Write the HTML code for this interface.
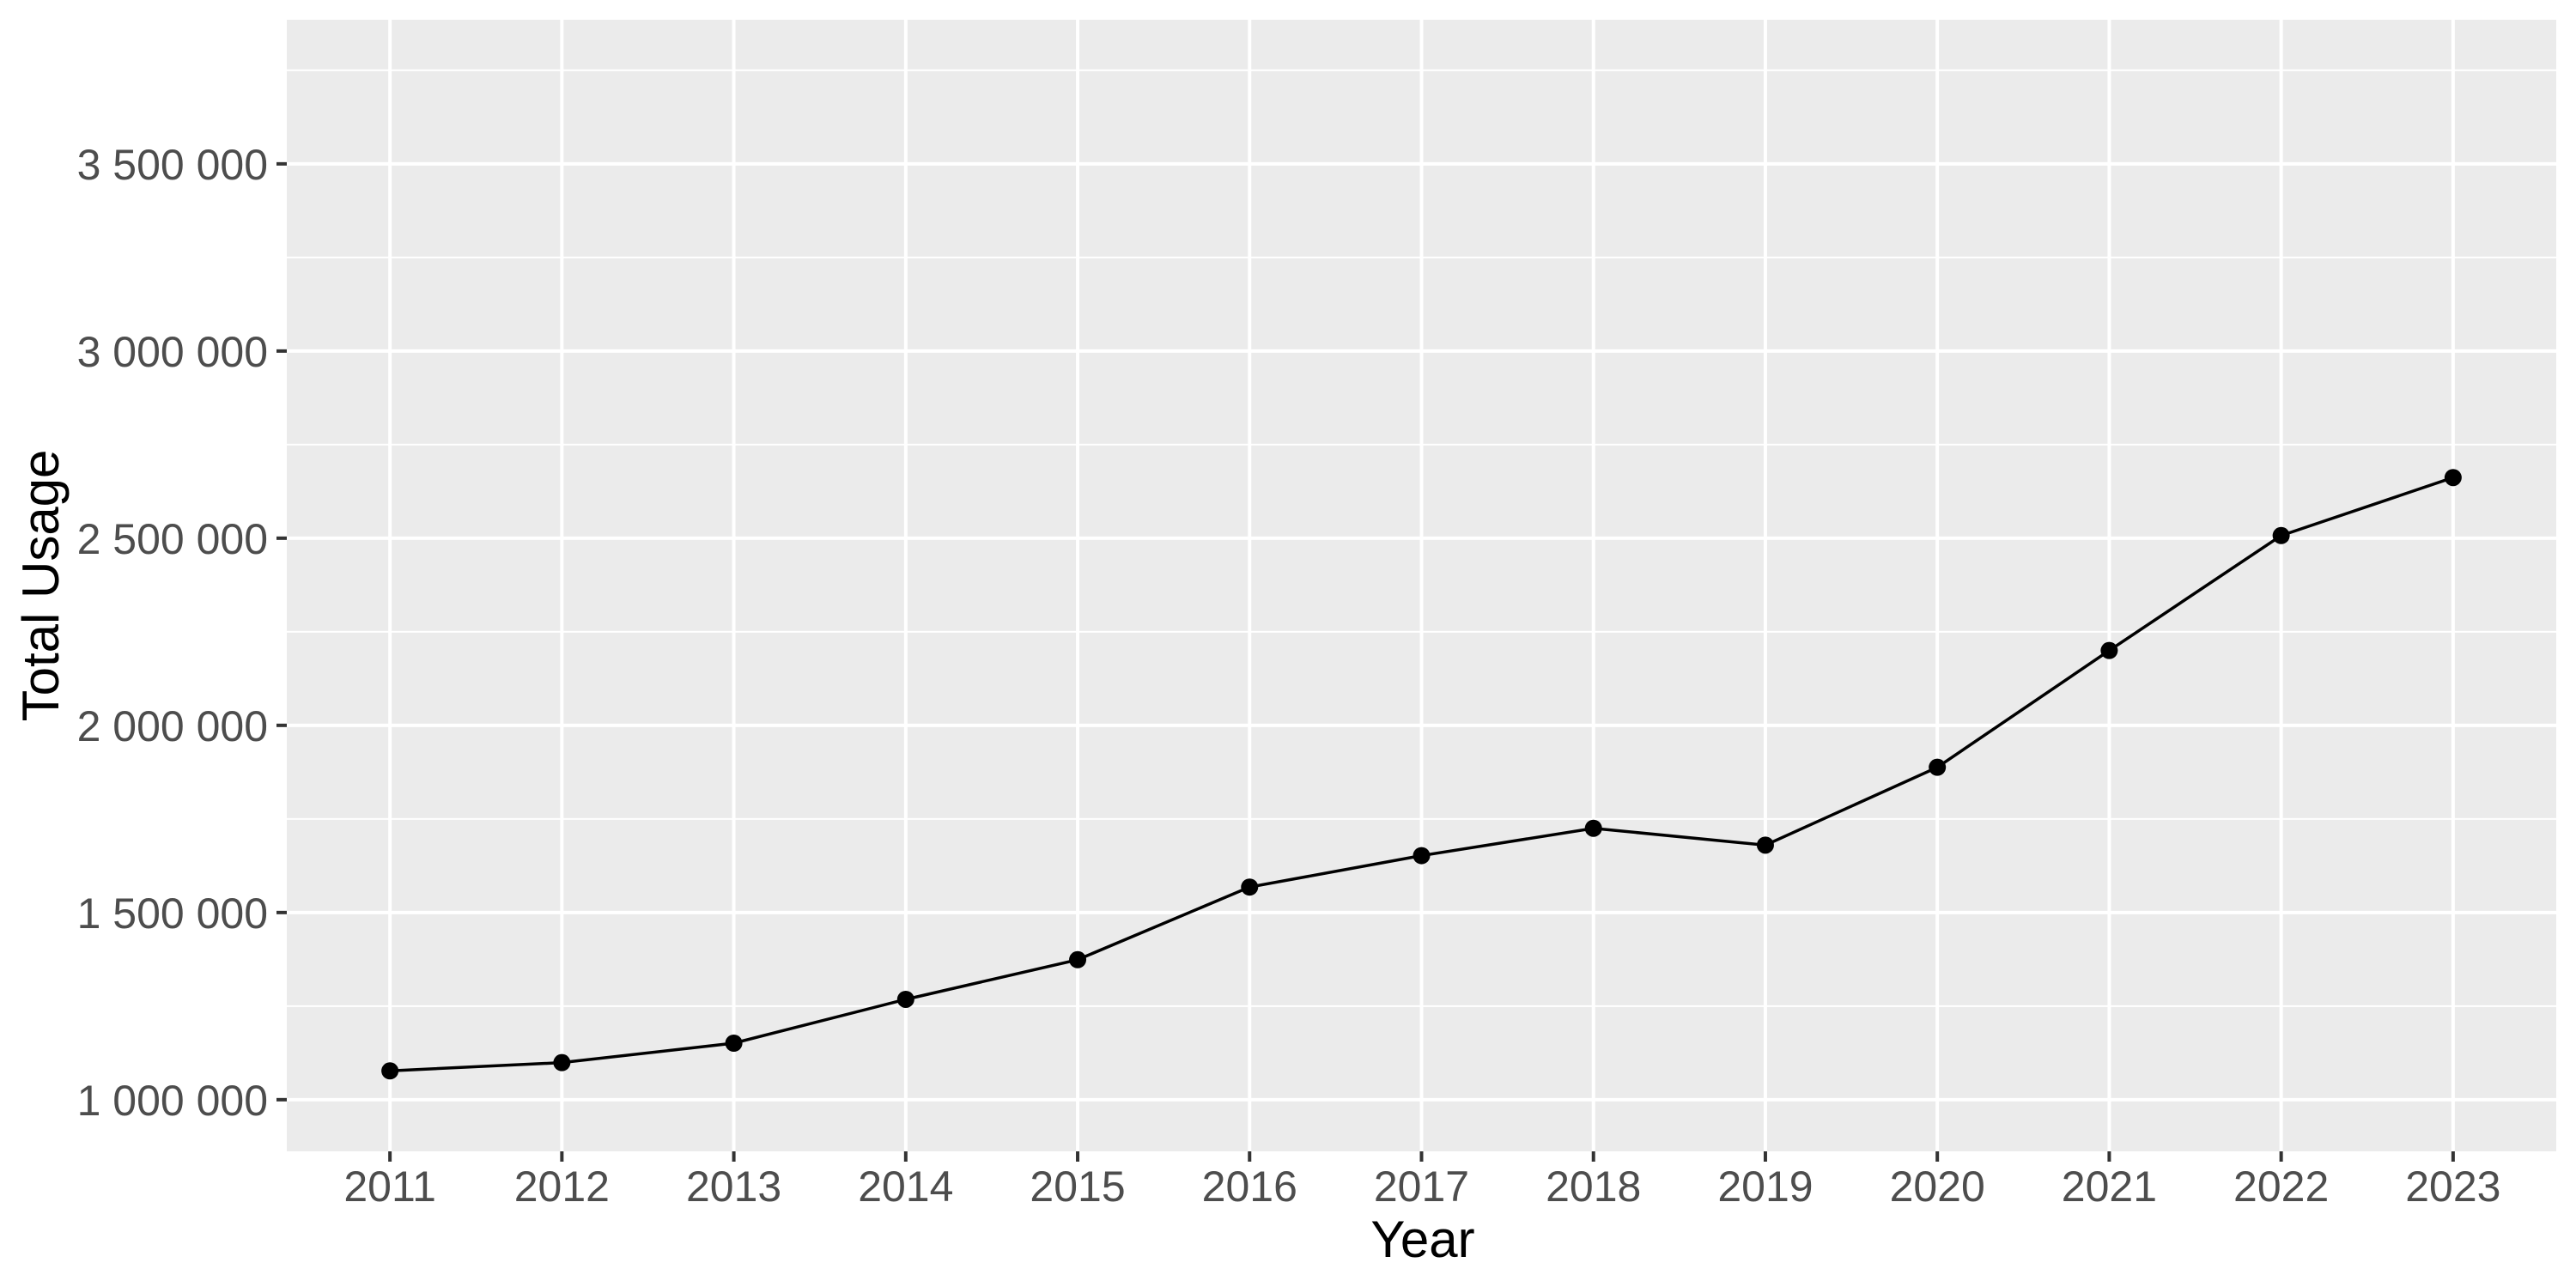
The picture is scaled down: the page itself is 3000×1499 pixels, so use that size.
<!DOCTYPE html>
<html><head><meta charset="utf-8"><style>
html,body{margin:0;padding:0;background:#fff;}
svg{display:block;}
text{font-family:"Liberation Sans",Arial,sans-serif;}
</style></head><body>
<svg id="chart" width="3000" height="1499" viewBox="0 0 3000 1499" xmlns="http://www.w3.org/2000/svg">
<rect x="0" y="0" width="3000" height="1499" fill="#fff"/>
<rect x="334" y="23" width="2643" height="1318" fill="#ebebeb"/>
<g id="grid"></g>
<g id="axes"></g>
<g id="series"></g>
<text x="1657" y="1464" font-size="60" text-anchor="middle" fill="#000">Year</text>
<text transform="translate(68,682) rotate(-90)" font-size="60" text-anchor="middle" fill="#000">Total Usage</text>
</svg>
<script>
const years = [2011,2012,2013,2014,2015,2016,2017,2018,2019,2020,2021,2022,2023];
const usage = [1077000,1099000,1151000,1268000,1374000,1568000,1652000,1725000,1680000,1888000,2200000,2507000,2662000];
const yTicks = [1000000,1500000,2000000,2500000,3000000,3500000];
const yTickLabels = ["1 000 000","1 500 000","2 000 000","2 500 000","3 000 000","3 500 000"];
const yMinor = [1250000,1750000,2250000,2750000,3250000,3750000];

const NS='http://www.w3.org/2000/svg';
const px0=334, px1=2977, py0=23, py1=1341;
const yMin=862000, yMax=3885000;
const xMin=2010.4, xMax=2023.6;
function xs(v){return px0+(v-xMin)/(xMax-xMin)*(px1-px0);}
function ys(v){return py1-(v-yMin)/(yMax-yMin)*(py1-py0);}
function mk(tag,attrs,parent){const e=document.createElementNS(NS,tag);for(const k in attrs)e.setAttribute(k,attrs[k]);parent.appendChild(e);return e;}
const grid=document.getElementById('grid'),axes=document.getElementById('axes'),series=document.getElementById('series');

yMinor.forEach(v=>{
  const l=mk('line',{x1:px0,x2:px1,y1:ys(v),y2:ys(v),stroke:'#fff','stroke-width':2},grid);
  
  
});
yTicks.forEach((v,i)=>{
  const l=mk('line',{x1:px0,x2:px1,y1:ys(v),y2:ys(v),stroke:'#fff','stroke-width':4},grid);
  
  
  const t=mk('line',{x1:322,x2:px0,y1:ys(v),y2:ys(v),stroke:'#333','stroke-width':4},axes);
  
  
  const tx=mk('text',{x:312,y:ys(v)+18,'font-size':50,'text-anchor':'end',fill:'#4d4d4d'},axes);
  tx.textContent=yTickLabels[i];
  
  
});
years.forEach(y=>{
  const l=mk('line',{x1:xs(y),x2:xs(y),y1:py0,y2:py1,stroke:'#fff','stroke-width':4},grid);
  
  
  const t=mk('line',{x1:xs(y),x2:xs(y),y1:py1,y2:py1+12,stroke:'#333','stroke-width':4},axes);
  
  
  const tx=mk('text',{x:xs(y),y:1399,'font-size':50,'text-anchor':'middle',fill:'#4d4d4d'},axes);
  tx.textContent=String(y);
  
  
});
const pts=years.map((y,i)=>xs(y)+','+ys(usage[i])).join(' ');
const line=mk('polyline',{points:pts,fill:'none',stroke:'#000','stroke-width':3.5},series);


years.forEach((y,i)=>{
  const c=mk('circle',{cx:xs(y),cy:ys(usage[i]),r:10,fill:'#000'},series);
  
  
});
</script>
</body></html>
